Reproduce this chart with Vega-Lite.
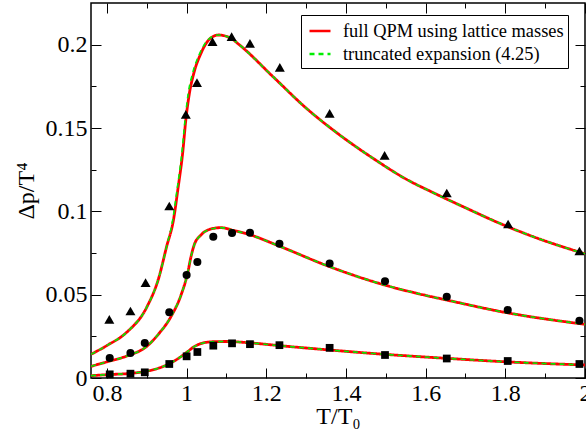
{
  "$schema": "https://vega.github.io/schema/vega-lite/v6.json",
  "width": 494,
  "height": 375,
  "autosize": {"type": "none"},
  "padding": {"left": 91, "top": 3, "right": 1, "bottom": 57},
  "background": "white",
  "config": {
    "view": {"stroke": "black", "strokeWidth": 1.5},
    "font": "Liberation Serif"
  },
  "datasets": {
    "curves": [
      {"series": "full QPM using lattice masses", "set": "A", "x": 0.76, "y": 0.0142},
      {"series": "full QPM using lattice masses", "set": "A", "x": 0.80, "y": 0.0195},
      {"series": "full QPM using lattice masses", "set": "A", "x": 0.85, "y": 0.0275},
      {"series": "full QPM using lattice masses", "set": "A", "x": 0.90, "y": 0.0425},
      {"series": "full QPM using lattice masses", "set": "A", "x": 0.93, "y": 0.0600},
      {"series": "full QPM using lattice masses", "set": "A", "x": 0.95, "y": 0.0790},
      {"series": "full QPM using lattice masses", "set": "A", "x": 0.967, "y": 0.0948},
      {"series": "full QPM using lattice masses", "set": "A", "x": 0.979, "y": 0.1148},
      {"series": "full QPM using lattice masses", "set": "A", "x": 0.990, "y": 0.1348},
      {"series": "full QPM using lattice masses", "set": "A", "x": 0.998, "y": 0.1548},
      {"series": "full QPM using lattice masses", "set": "A", "x": 1.007, "y": 0.1708},
      {"series": "full QPM using lattice masses", "set": "A", "x": 1.018, "y": 0.1828},
      {"series": "full QPM using lattice masses", "set": "A", "x": 1.036, "y": 0.1948},
      {"series": "full QPM using lattice masses", "set": "A", "x": 1.057, "y": 0.2032},
      {"series": "full QPM using lattice masses", "set": "A", "x": 1.080, "y": 0.2058},
      {"series": "full QPM using lattice masses", "set": "A", "x": 1.110, "y": 0.2040},
      {"series": "full QPM using lattice masses", "set": "A", "x": 1.133, "y": 0.1998},
      {"series": "full QPM using lattice masses", "set": "A", "x": 1.2168, "y": 0.1808},
      {"series": "full QPM using lattice masses", "set": "A", "x": 1.3007, "y": 0.1618},
      {"series": "full QPM using lattice masses", "set": "A", "x": 1.3844, "y": 0.1458},
      {"series": "full QPM using lattice masses", "set": "A", "x": 1.468, "y": 0.1318},
      {"series": "full QPM using lattice masses", "set": "A", "x": 1.552, "y": 0.1192},
      {"series": "full QPM using lattice masses", "set": "A", "x": 1.619, "y": 0.1112},
      {"series": "full QPM using lattice masses", "set": "A", "x": 1.703, "y": 0.1018},
      {"series": "full QPM using lattice masses", "set": "A", "x": 1.786, "y": 0.0928},
      {"series": "full QPM using lattice masses", "set": "A", "x": 1.870, "y": 0.0848},
      {"series": "full QPM using lattice masses", "set": "A", "x": 2.00, "y": 0.0745},
      {"series": "full QPM using lattice masses", "set": "B", "x": 0.76, "y": 0.0070},
      {"series": "full QPM using lattice masses", "set": "B", "x": 0.80, "y": 0.0097},
      {"series": "full QPM using lattice masses", "set": "B", "x": 0.85, "y": 0.0132},
      {"series": "full QPM using lattice masses", "set": "B", "x": 0.90, "y": 0.0190},
      {"series": "full QPM using lattice masses", "set": "B", "x": 0.93, "y": 0.0265},
      {"series": "full QPM using lattice masses", "set": "B", "x": 0.96, "y": 0.0365},
      {"series": "full QPM using lattice masses", "set": "B", "x": 0.986, "y": 0.0498},
      {"series": "full QPM using lattice masses", "set": "B", "x": 1.0025, "y": 0.0628},
      {"series": "full QPM using lattice masses", "set": "B", "x": 1.011, "y": 0.0728},
      {"series": "full QPM using lattice masses", "set": "B", "x": 1.019, "y": 0.0798},
      {"series": "full QPM using lattice masses", "set": "B", "x": 1.036, "y": 0.0858},
      {"series": "full QPM using lattice masses", "set": "B", "x": 1.061, "y": 0.0894},
      {"series": "full QPM using lattice masses", "set": "B", "x": 1.086, "y": 0.0902},
      {"series": "full QPM using lattice masses", "set": "B", "x": 1.12, "y": 0.0884},
      {"series": "full QPM using lattice masses", "set": "B", "x": 1.153, "y": 0.0864},
      {"series": "full QPM using lattice masses", "set": "B", "x": 1.234, "y": 0.0790},
      {"series": "full QPM using lattice masses", "set": "B", "x": 1.359, "y": 0.0668},
      {"series": "full QPM using lattice masses", "set": "B", "x": 1.497, "y": 0.0558},
      {"series": "full QPM using lattice masses", "set": "B", "x": 1.585, "y": 0.0504},
      {"series": "full QPM using lattice masses", "set": "B", "x": 1.6525, "y": 0.0468},
      {"series": "full QPM using lattice masses", "set": "B", "x": 1.803, "y": 0.0392},
      {"series": "full QPM using lattice masses", "set": "B", "x": 2.0, "y": 0.0322},
      {"series": "full QPM using lattice masses", "set": "C", "x": 0.76, "y": 0.0014},
      {"series": "full QPM using lattice masses", "set": "C", "x": 0.80, "y": 0.0020},
      {"series": "full QPM using lattice masses", "set": "C", "x": 0.86, "y": 0.0028},
      {"series": "full QPM using lattice masses", "set": "C", "x": 0.90, "y": 0.0041},
      {"series": "full QPM using lattice masses", "set": "C", "x": 0.944, "y": 0.0072},
      {"series": "full QPM using lattice masses", "set": "C", "x": 0.977, "y": 0.0114},
      {"series": "full QPM using lattice masses", "set": "C", "x": 1.0025, "y": 0.0158},
      {"series": "full QPM using lattice masses", "set": "C", "x": 1.019, "y": 0.0188},
      {"series": "full QPM using lattice masses", "set": "C", "x": 1.044, "y": 0.0212},
      {"series": "full QPM using lattice masses", "set": "C", "x": 1.07, "y": 0.0218},
      {"series": "full QPM using lattice masses", "set": "C", "x": 1.103, "y": 0.0219},
      {"series": "full QPM using lattice masses", "set": "C", "x": 1.153, "y": 0.0212},
      {"series": "full QPM using lattice masses", "set": "C", "x": 1.234, "y": 0.0194},
      {"series": "full QPM using lattice masses", "set": "C", "x": 1.359, "y": 0.0168},
      {"series": "full QPM using lattice masses", "set": "C", "x": 1.497, "y": 0.0142},
      {"series": "full QPM using lattice masses", "set": "C", "x": 1.585, "y": 0.0128},
      {"series": "full QPM using lattice masses", "set": "C", "x": 1.6525, "y": 0.0118},
      {"series": "full QPM using lattice masses", "set": "C", "x": 1.803, "y": 0.0097},
      {"series": "full QPM using lattice masses", "set": "C", "x": 2.0, "y": 0.0078},
      {"series": "truncated expansion (4.25)", "set": "A", "x": 0.76, "y": 0.0142},
      {"series": "truncated expansion (4.25)", "set": "A", "x": 0.80, "y": 0.0195},
      {"series": "truncated expansion (4.25)", "set": "A", "x": 0.85, "y": 0.0275},
      {"series": "truncated expansion (4.25)", "set": "A", "x": 0.90, "y": 0.0425},
      {"series": "truncated expansion (4.25)", "set": "A", "x": 0.93, "y": 0.0600},
      {"series": "truncated expansion (4.25)", "set": "A", "x": 0.95, "y": 0.0790},
      {"series": "truncated expansion (4.25)", "set": "A", "x": 0.965, "y": 0.0948},
      {"series": "truncated expansion (4.25)", "set": "A", "x": 0.977, "y": 0.1148},
      {"series": "truncated expansion (4.25)", "set": "A", "x": 0.988, "y": 0.1348},
      {"series": "truncated expansion (4.25)", "set": "A", "x": 0.996, "y": 0.1548},
      {"series": "truncated expansion (4.25)", "set": "A", "x": 1.004, "y": 0.1708},
      {"series": "truncated expansion (4.25)", "set": "A", "x": 1.015, "y": 0.1828},
      {"series": "truncated expansion (4.25)", "set": "A", "x": 1.033, "y": 0.1948},
      {"series": "truncated expansion (4.25)", "set": "A", "x": 1.055, "y": 0.2032},
      {"series": "truncated expansion (4.25)", "set": "A", "x": 1.080, "y": 0.2058},
      {"series": "truncated expansion (4.25)", "set": "A", "x": 1.110, "y": 0.2040},
      {"series": "truncated expansion (4.25)", "set": "A", "x": 1.133, "y": 0.1998},
      {"series": "truncated expansion (4.25)", "set": "A", "x": 1.2168, "y": 0.1808},
      {"series": "truncated expansion (4.25)", "set": "A", "x": 1.3007, "y": 0.1618},
      {"series": "truncated expansion (4.25)", "set": "A", "x": 1.3844, "y": 0.1458},
      {"series": "truncated expansion (4.25)", "set": "A", "x": 1.468, "y": 0.1318},
      {"series": "truncated expansion (4.25)", "set": "A", "x": 1.552, "y": 0.1192},
      {"series": "truncated expansion (4.25)", "set": "A", "x": 1.619, "y": 0.1112},
      {"series": "truncated expansion (4.25)", "set": "A", "x": 1.703, "y": 0.1018},
      {"series": "truncated expansion (4.25)", "set": "A", "x": 1.786, "y": 0.0928},
      {"series": "truncated expansion (4.25)", "set": "A", "x": 1.870, "y": 0.0848},
      {"series": "truncated expansion (4.25)", "set": "A", "x": 2.00, "y": 0.0745},
      {"series": "truncated expansion (4.25)", "set": "B", "x": 0.76, "y": 0.0070},
      {"series": "truncated expansion (4.25)", "set": "B", "x": 0.80, "y": 0.0097},
      {"series": "truncated expansion (4.25)", "set": "B", "x": 0.85, "y": 0.0132},
      {"series": "truncated expansion (4.25)", "set": "B", "x": 0.90, "y": 0.0190},
      {"series": "truncated expansion (4.25)", "set": "B", "x": 0.93, "y": 0.0265},
      {"series": "truncated expansion (4.25)", "set": "B", "x": 0.96, "y": 0.0365},
      {"series": "truncated expansion (4.25)", "set": "B", "x": 0.986, "y": 0.0498},
      {"series": "truncated expansion (4.25)", "set": "B", "x": 1.0025, "y": 0.0628},
      {"series": "truncated expansion (4.25)", "set": "B", "x": 1.011, "y": 0.0728},
      {"series": "truncated expansion (4.25)", "set": "B", "x": 1.019, "y": 0.0798},
      {"series": "truncated expansion (4.25)", "set": "B", "x": 1.036, "y": 0.0858},
      {"series": "truncated expansion (4.25)", "set": "B", "x": 1.061, "y": 0.0894},
      {"series": "truncated expansion (4.25)", "set": "B", "x": 1.086, "y": 0.0902},
      {"series": "truncated expansion (4.25)", "set": "B", "x": 1.12, "y": 0.0884},
      {"series": "truncated expansion (4.25)", "set": "B", "x": 1.153, "y": 0.0864},
      {"series": "truncated expansion (4.25)", "set": "B", "x": 1.234, "y": 0.0790},
      {"series": "truncated expansion (4.25)", "set": "B", "x": 1.359, "y": 0.0668},
      {"series": "truncated expansion (4.25)", "set": "B", "x": 1.497, "y": 0.0558},
      {"series": "truncated expansion (4.25)", "set": "B", "x": 1.585, "y": 0.0504},
      {"series": "truncated expansion (4.25)", "set": "B", "x": 1.6525, "y": 0.0468},
      {"series": "truncated expansion (4.25)", "set": "B", "x": 1.803, "y": 0.0392},
      {"series": "truncated expansion (4.25)", "set": "B", "x": 2.0, "y": 0.0322},
      {"series": "truncated expansion (4.25)", "set": "C", "x": 0.76, "y": 0.0014},
      {"series": "truncated expansion (4.25)", "set": "C", "x": 0.80, "y": 0.0020},
      {"series": "truncated expansion (4.25)", "set": "C", "x": 0.86, "y": 0.0028},
      {"series": "truncated expansion (4.25)", "set": "C", "x": 0.90, "y": 0.0041},
      {"series": "truncated expansion (4.25)", "set": "C", "x": 0.944, "y": 0.0072},
      {"series": "truncated expansion (4.25)", "set": "C", "x": 0.977, "y": 0.0114},
      {"series": "truncated expansion (4.25)", "set": "C", "x": 1.0025, "y": 0.0158},
      {"series": "truncated expansion (4.25)", "set": "C", "x": 1.019, "y": 0.0188},
      {"series": "truncated expansion (4.25)", "set": "C", "x": 1.044, "y": 0.0212},
      {"series": "truncated expansion (4.25)", "set": "C", "x": 1.07, "y": 0.0218},
      {"series": "truncated expansion (4.25)", "set": "C", "x": 1.103, "y": 0.0219},
      {"series": "truncated expansion (4.25)", "set": "C", "x": 1.153, "y": 0.0212},
      {"series": "truncated expansion (4.25)", "set": "C", "x": 1.234, "y": 0.0194},
      {"series": "truncated expansion (4.25)", "set": "C", "x": 1.359, "y": 0.0168},
      {"series": "truncated expansion (4.25)", "set": "C", "x": 1.497, "y": 0.0142},
      {"series": "truncated expansion (4.25)", "set": "C", "x": 1.585, "y": 0.0128},
      {"series": "truncated expansion (4.25)", "set": "C", "x": 1.6525, "y": 0.0118},
      {"series": "truncated expansion (4.25)", "set": "C", "x": 1.803, "y": 0.0097},
      {"series": "truncated expansion (4.25)", "set": "C", "x": 2.0, "y": 0.0078}
    ],
    "points": [
      {"set": "A", "x": 0.806, "y": 0.0352},
      {"set": "A", "x": 0.859, "y": 0.0402},
      {"set": "A", "x": 0.897, "y": 0.0572},
      {"set": "A", "x": 0.9565, "y": 0.1032},
      {"set": "A", "x": 0.998, "y": 0.1582},
      {"set": "A", "x": 1.026, "y": 0.1772},
      {"set": "A", "x": 1.065, "y": 0.2018},
      {"set": "A", "x": 1.113, "y": 0.2048},
      {"set": "A", "x": 1.159, "y": 0.2008},
      {"set": "A", "x": 1.234, "y": 0.1864},
      {"set": "A", "x": 1.359, "y": 0.1588},
      {"set": "A", "x": 1.497, "y": 0.1336},
      {"set": "A", "x": 1.653, "y": 0.111},
      {"set": "A", "x": 1.807, "y": 0.0924},
      {"set": "A", "x": 1.986, "y": 0.0762},
      {"set": "B", "x": 0.807, "y": 0.012},
      {"set": "B", "x": 0.859, "y": 0.015},
      {"set": "B", "x": 0.895, "y": 0.021},
      {"set": "B", "x": 0.9565, "y": 0.0394},
      {"set": "B", "x": 1.0, "y": 0.0618},
      {"set": "B", "x": 1.027, "y": 0.0696},
      {"set": "B", "x": 1.067, "y": 0.0848},
      {"set": "B", "x": 1.114, "y": 0.087},
      {"set": "B", "x": 1.159, "y": 0.0872},
      {"set": "B", "x": 1.233, "y": 0.0806},
      {"set": "B", "x": 1.359, "y": 0.0687},
      {"set": "B", "x": 1.498, "y": 0.0581},
      {"set": "B", "x": 1.653, "y": 0.0487},
      {"set": "B", "x": 1.806, "y": 0.0408},
      {"set": "B", "x": 1.986, "y": 0.0344},
      {"set": "C", "x": 0.807, "y": 0.0022},
      {"set": "C", "x": 0.859, "y": 0.0026},
      {"set": "C", "x": 0.895, "y": 0.0034},
      {"set": "C", "x": 0.9565, "y": 0.0084},
      {"set": "C", "x": 1.0, "y": 0.013},
      {"set": "C", "x": 1.027, "y": 0.0156},
      {"set": "C", "x": 1.067, "y": 0.0194},
      {"set": "C", "x": 1.114, "y": 0.0208},
      {"set": "C", "x": 1.159, "y": 0.0203},
      {"set": "C", "x": 1.233, "y": 0.0197},
      {"set": "C", "x": 1.359, "y": 0.0181},
      {"set": "C", "x": 1.498, "y": 0.0138},
      {"set": "C", "x": 1.653, "y": 0.0117},
      {"set": "C", "x": 1.806, "y": 0.0102},
      {"set": "C", "x": 1.986, "y": 0.0084}
    ]
  },
  "layer": [
    {
      "data": {"name": "curves"},
      "transform": [{"filter": "datum.series == 'full QPM using lattice masses'"}],
      "mark": {"type": "line", "strokeWidth": 2.8, "clip": true, "interpolate": "monotone"},
      "encoding": {
        "x": {
          "field": "x", "type": "quantitative",
          "scale": {"domain": [0.76, 2.0], "nice": false, "zero": false},
          "axis": {
            "orient": "bottom",
            "values": [0.8, 0.9, 1.0, 1.1, 1.2, 1.3, 1.4, 1.5, 1.6, 1.7, 1.8, 1.9, 2.0],
            "labelExpr": "round(datum.value*10)%2==1 ? '' : format(datum.value,'~g')",
            "tickSize": {"condition": {"test": "round(datum.value*10)%2==1", "value": -5}, "value": -10},
            "domain": false, "grid": false,
            "tickColor": "black", "tickWidth": 1,
            "labelFont": "Liberation Serif", "labelFontSize": 24, "labelColor": "black",
            "labelPadding": 13, "labelFlush": false, "labelOverlap": false,
            "title": "T/T₀", "titleFont": "Liberation Serif", "titleFontSize": 24,
            "titleFontWeight": "normal", "titleColor": "black",
            "titleY": 45, "titleBaseline": "alphabetic"
          }
        },
        "y": {
          "field": "y", "type": "quantitative",
          "scale": {"domain": [0, 0.225], "nice": false, "zero": false},
          "axis": {
            "orient": "left",
            "values": [0, 0.025, 0.05, 0.075, 0.1, 0.125, 0.15, 0.175, 0.2],
            "labelExpr": "round(datum.value*40)%2==1 ? '' : format(datum.value,'~g')",
            "tickSize": {"condition": {"test": "round(datum.value*40)%2==1", "value": -5}, "value": -10},
            "domain": false, "grid": false,
            "tickColor": "black", "tickWidth": 1,
            "labelFont": "Liberation Serif", "labelFontSize": 24, "labelColor": "black",
            "labelPadding": 14, "labelFlush": false, "labelOverlap": false,
            "title": "Δp/T⁴", "titleFont": "Liberation Serif", "titleFontSize": 24,
            "titleFontWeight": "normal", "titleColor": "black",
            "titleX": -58, "titleBaseline": "alphabetic"
          }
        },
        "detail": {"field": "set"},
        "color": {
          "field": "series", "type": "nominal",
          "scale": {"domain": ["full QPM using lattice masses", "truncated expansion (4.25)"], "range": ["#ff0000", "#00ee00"]},
          "legend": {
            "title": null, "orient": "none", "legendX": 210, "legendY": 12,
            "strokeColor": "black", "fillColor": "white", "padding": 4,
            "symbolType": "stroke", "symbolSize": 441, "symbolStrokeWidth": 2.5,
            "symbolOffset": 3, "labelOffset": 11, "rowPadding": 1, "labelLimit": 400,
            "labelFont": "Liberation Serif", "labelFontSize": 18.4, "labelColor": "black"
          }
        },
        "strokeDash": {
          "field": "series", "type": "nominal",
          "scale": {"domain": ["full QPM using lattice masses", "truncated expansion (4.25)"], "range": [[1, 0], [5, 4]]},
          "legend": {
            "title": null, "orient": "none", "legendX": 210, "legendY": 12,
            "strokeColor": "black", "fillColor": "white", "padding": 4,
            "symbolType": "stroke", "symbolSize": 441, "symbolStrokeWidth": 2.5,
            "symbolOffset": 3, "labelOffset": 11, "rowPadding": 1, "labelLimit": 400,
            "labelFont": "Liberation Serif", "labelFontSize": 18.4, "labelColor": "black"
          }
        }
      }
    },
    {
      "data": {"name": "curves"},
      "transform": [{"filter": "datum.series == 'truncated expansion (4.25)'"}],
      "mark": {"type": "line", "strokeWidth": 1.6, "clip": true, "interpolate": "monotone"},
      "encoding": {
        "x": {
          "field": "x", "type": "quantitative",
          "axis": {
            "orient": "top",
            "values": [0.8, 0.9, 1.0, 1.1, 1.2, 1.3, 1.4, 1.5, 1.6, 1.7, 1.8, 1.9, 2.0],
            "labels": false, "title": null, "domain": false, "grid": false,
            "tickSize": {"condition": {"test": "round(datum.value*10)%2==1", "value": -5}, "value": -10},
            "tickColor": "black", "tickWidth": 1
          }
        },
        "y": {
          "field": "y", "type": "quantitative",
          "axis": {
            "orient": "right",
            "values": [0, 0.025, 0.05, 0.075, 0.1, 0.125, 0.15, 0.175, 0.2],
            "labels": false, "title": null, "domain": false, "grid": false,
            "tickSize": {"condition": {"test": "round(datum.value*40)%2==1", "value": -5}, "value": -10},
            "tickColor": "black", "tickWidth": 1
          }
        },
        "detail": {"field": "set"},
        "color": {"field": "series", "type": "nominal"},
        "strokeDash": {"field": "series", "type": "nominal"}
      }
    },
    {
      "data": {"name": "points"},
      "mark": {"type": "point", "filled": true, "opacity": 1, "color": "black"},
      "encoding": {
        "x": {"field": "x", "type": "quantitative", "axis": null},
        "y": {"field": "y", "type": "quantitative", "axis": null},
        "shape": {
          "field": "set", "type": "nominal",
          "scale": {"domain": ["A", "B", "C"], "range": ["triangle-up", "circle", "square"]},
          "legend": null
        },
        "size": {
          "field": "set", "type": "nominal",
          "scale": {"type": "ordinal", "domain": ["A", "B", "C"], "range": [100, 65, 60]},
          "legend": null
        }
      }
    }
  ],
  "resolve": {"axis": {"x": "independent", "y": "independent"}}
}
